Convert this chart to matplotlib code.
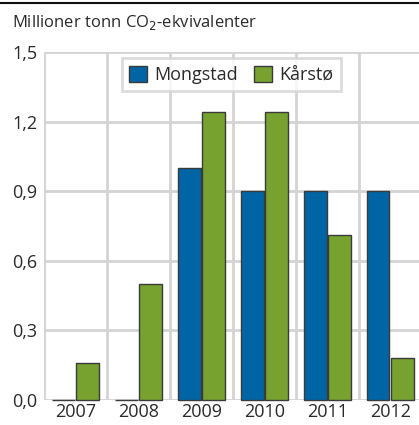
import numpy as np
import matplotlib
matplotlib.use('Agg')
import matplotlib.pyplot as plt
from matplotlib.lines import Line2D

plt.rcParams['font.family'] = ['Open Sans', 'DejaVu Sans']

years = ['2007', '2008', '2009', '2010', '2011', '2012']
mongstad = [0.0, 0.0, 1.0, 0.9, 0.9, 0.9]
kaarstoe = [0.16, 0.5, 1.24, 1.24, 0.71, 0.18]
yticks = [0.0, 0.3, 0.6, 0.9, 1.2, 1.5]
ytick_labels = ['0,0', '0,3', '0,6', '0,9', '1,2', '1,5']

blue = '#0065a4'
green = '#78a22f'
grid_col = '#d4d4d4'
text_col = '#2a2a2a'

fig = plt.figure(figsize=(4.19, 4.25), dpi=100)
ax = fig.add_axes((0.105, 0.0588, 0.902, 0.8188))

x = np.arange(len(years))
w = 0.365
gap = 0.03
ax.bar(x - w / 2 - gap / 2, mongstad, w, color=blue, edgecolor='#3a3a3a',
       linewidth=1.0, label='Mongstad', zorder=3, clip_on=False)
ax.bar(x + w / 2 + gap / 2, kaarstoe, w, color=green, edgecolor='#3a3a3a',
       linewidth=1.0, label='Kårstø', zorder=3, clip_on=False)

ax.set_xlim(-0.5, 5.5)
ax.set_ylim(0, 1.5)
ax.set_yticks(yticks)
ax.set_yticklabels(ytick_labels)
ax.set_xticks(x)
ax.set_xticklabels(years)

# grid lines, vertical ones between the categories
for b in np.arange(-0.5, 6.0, 1.0):
    ax.axvline(b, color=grid_col, lw=2, zorder=1)
for yv in yticks:
    ax.axhline(yv, color=grid_col, lw=2, zorder=1)

for s in ax.spines.values():
    s.set_visible(False)
ax.tick_params(axis='both', length=0, labelsize=13, colors=text_col)
ax.tick_params(axis='y', pad=5)
ax.tick_params(axis='x', pad=2)

leg = ax.legend(loc='upper center', bbox_to_anchor=(0.495, 0.982), ncol=2,
                frameon=True, fancybox=False, fontsize=13, handlelength=1.0,
                handleheight=1.0, handletextpad=0.4, columnspacing=0.9,
                borderpad=0.4, borderaxespad=0)
leg.get_frame().set_edgecolor(grid_col)
leg.get_frame().set_linewidth(2)
for t in leg.get_texts():
    t.set_color(text_col)

fig.text(0.028, 0.948, 'Millioner tonn CO$_2$-ekvivalenter', fontsize=12,
         color=text_col, va='center', ha='left')
fig.add_artist(Line2D([0, 1], [0.993, 0.993], color='#111111', lw=1.5))

plt.savefig('out.png', dpi=100)
